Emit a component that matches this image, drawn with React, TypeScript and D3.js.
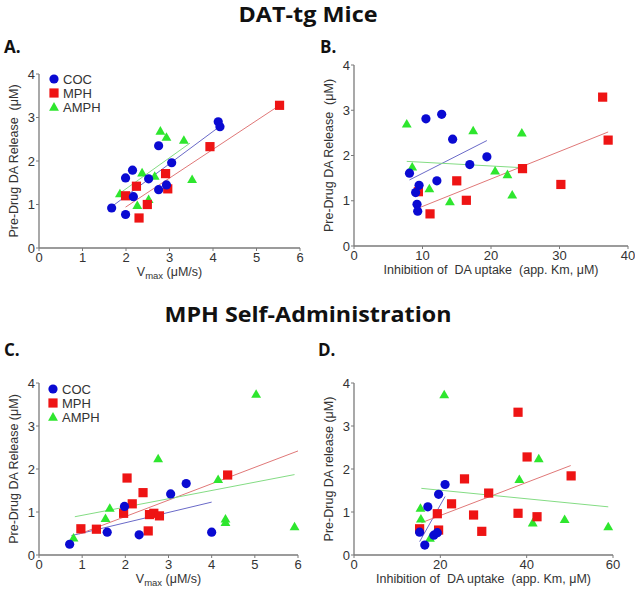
import React from 'react';
import * as d3 from 'd3';

// series order: COC, MPH, AMPH
const seriesNames = ['COC', 'MPH', 'AMPH'];
const seriesColors = ['#0a0ad2', '#ee1414', '#2ee62e'];
const lineColors = ['#6a6ac8', '#e07878', '#84dc84'];

// A. DAT-tg, Vmax
const aCOC = [[1.67, 0.92], [1.99, 0.77], [1.99, 1.61], [2.15, 1.79], [2.17, 1.18], [2.52, 1.59], [2.75, 2.35], [2.75, 1.34], [2.93, 1.45], [3.05, 1.96], [4.12, 2.9], [4.16, 2.79]];
const aMPH = [[1.99, 1.2], [2.24, 1.42], [2.3, 0.69], [2.49, 1.0], [2.91, 1.71], [2.96, 1.36], [3.93, 2.33], [5.53, 3.28]];
const aAMPH = [[1.86, 1.25], [2.26, 0.98], [2.37, 1.73], [2.52, 1.12], [2.66, 1.65], [2.79, 2.69], [2.93, 2.55], [3.33, 2.48], [3.52, 1.58]];
const aFits = [[1.67, 0.95, 4.15, 2.79], [1.99, 0.94, 5.53, 3.28], [1.86, 1.26, 3.47, 2.41]];

// B. DAT-tg, app. Km
const bCOC = [[8.1, 1.61], [9.5, 1.34], [9.0, 1.18], [9.2, 0.92], [9.3, 0.77], [10.5, 2.81], [12.8, 2.91], [12.1, 1.44], [14.4, 2.36], [16.9, 1.8], [19.4, 1.97]];
const bMPH = [[9.4, 1.2], [11.1, 0.71], [15.0, 1.44], [16.4, 1.01], [24.6, 1.71], [30.2, 1.36], [36.3, 3.29], [37.1, 2.34]];
const bAMPH = [[7.7, 2.7], [8.5, 1.75], [11.0, 1.27], [14.0, 0.98], [17.4, 2.55], [20.6, 1.66], [22.4, 1.58], [23.1, 1.13], [24.5, 2.5]];
const bFits = [[8.1, 1.46, 19.4, 2.33], [9.6, 0.85, 37.1, 2.52], [7.7, 1.87, 24.6, 1.73]];

// C. MPH self-admin, Vmax
const cCOC = [[0.71, 0.25], [1.58, 0.53], [1.98, 1.13], [2.32, 0.47], [3.05, 1.42], [3.41, 1.66], [4.0, 0.53]];
const cMPH = [[0.97, 0.61], [1.33, 0.6], [1.96, 0.97], [2.04, 1.79], [2.16, 1.19], [2.41, 1.45], [2.53, 0.56], [2.56, 0.94], [2.66, 0.97], [2.79, 0.91], [4.37, 1.86]];
const cAMPH = [[0.8, 0.4], [1.54, 0.85], [1.64, 1.09], [2.76, 2.24], [4.15, 1.76], [4.32, 0.76], [4.32, 0.84], [5.03, 3.74], [5.92, 0.66]];
const cFits = [[0.75, 0.45, 4.0, 1.23], [0.94, 0.49, 6.0, 2.42], [0.83, 0.89, 5.92, 1.87]];

// D. MPH self-admin, app. Km
const dCOC = [[15.2, 0.53], [16.4, 0.23], [17.1, 1.12], [18.5, 0.46], [19.3, 0.52], [19.6, 1.41], [21.1, 1.64]];
const dMPH = [[15.2, 0.61], [19.3, 0.96], [19.6, 0.58], [22.6, 1.19], [25.6, 1.77], [27.7, 0.93], [29.6, 0.55], [31.2, 1.44], [38.0, 3.32], [38.0, 0.97], [40.1, 2.28], [42.4, 0.89], [50.3, 1.84]];
const dAMPH = [[15.4, 1.09], [15.5, 0.84], [17.6, 0.39], [20.9, 3.73], [38.3, 1.76], [41.4, 0.75], [42.8, 2.24], [48.8, 0.83], [58.9, 0.66]];
const dFits = [[15.2, 0.31, 21.1, 1.36], [15.6, 0.75, 50.2, 2.08], [15.6, 1.55, 58.9, 1.12]];

const vmaxTicks = [0, 1, 2, 3, 4, 5, 6];
const kmTicksB = [0, 10, 20, 30, 40];
const kmTicksD = [0, 20, 40, 60];
const yTicks = [0, 1, 2, 3, 4];

const FONT = '"Liberation Sans", Arial, sans-serif';
const TITLE_FONT = '"Open Sans", "Liberation Sans", sans-serif';
const AXIS = '#7a7a7a';
const TEXT = '#333';

function Marker({ kind, x, y, color }) {
  if (kind === 0) return <circle cx={x} cy={y} r={4.6} fill={color} />;
  if (kind === 1) return <rect x={x - 4.6} y={y - 4.6} width={9.2} height={9.2} fill={color} />;
  const s = d3.symbol().type(d3.symbolTriangle).size(42)();
  return <path d={s} transform={`translate(${x},${y + 0.8})`} fill={color} />;
}

function Panel({ letter, letterPos, box, xMax, xTicks, xLabel, yLabel, series, fits, legend }) {
  const x = d3.scaleLinear().domain([0, xMax]).range([box.left, box.right]);
  const y = d3.scaleLinear().domain([0, 4]).range([box.bottom, box.top]);
  const cy = (box.top + box.bottom) / 2;
  return (
    <g>
      <text x={letterPos[0]} y={letterPos[1]} fontFamily={TITLE_FONT} fontWeight="bold" fontSize={17} fill="#111">{letter}</text>
      {/* axes */}
      <line x1={box.left} x2={box.right} y1={box.bottom} y2={box.bottom} stroke={AXIS} strokeWidth={1.3} />
      <line x1={box.left} x2={box.left} y1={box.top} y2={box.bottom} stroke={AXIS} strokeWidth={1.3} />
      {xTicks.map(t => (
        <g key={'x' + t}>
          <line x1={x(t)} x2={x(t)} y1={box.bottom} y2={box.bottom + 3} stroke={AXIS} />
          <text x={x(t)} y={box.bottom + 14} textAnchor="middle" fontFamily={FONT} fontSize={13} fill={TEXT}>{t}</text>
        </g>
      ))}
      {yTicks.map(t => (
        <g key={'y' + t}>
          <line x1={box.left - 3} x2={box.left} y1={y(t)} y2={y(t)} stroke={AXIS} />
          <text x={box.left - 4} y={y(t) + 4.5} textAnchor="end" fontFamily={FONT} fontSize={13} fill={TEXT}>{t}</text>
        </g>
      ))}
      <text transform={`translate(${box.left - 21},${cy}) rotate(-90)`} textAnchor="middle" fontFamily={FONT} fontSize={12.5} fill={TEXT} style={{ whiteSpace: 'pre' }}>{yLabel}</text>
      <text x={(box.left + box.right) / 2} y={box.bottom + 28} textAnchor="middle" fontFamily={FONT} fontSize={12.5} fill={TEXT} style={{ whiteSpace: 'pre' }}>{xLabel}</text>
      {/* regression lines */}
      {fits.map((f, i) => (
        <line key={'f' + i} x1={x(f[0])} y1={y(f[1])} x2={x(f[2])} y2={y(f[3])} stroke={lineColors[i]} strokeWidth={1} />
      ))}
      {/* points: AMPH, MPH, COC drawing order */}
      {[2, 1, 0].map(si => series[si].map((p, j) => (
        <Marker key={si + '-' + j} kind={si} x={x(p[0])} y={y(p[1])} color={seriesColors[si]} />
      )))}
      {legend && seriesNames.map((n, i) => (
        <g key={n}>
          <Marker kind={i} x={legend[0]} y={legend[1] + i * 14} color={seriesColors[i]} />
          <text x={legend[0] + 9} y={legend[1] + i * 14 + 5} fontFamily={FONT} fontSize={13} fill={TEXT}>{n}</text>
        </g>
      ))}
    </g>
  );
}

const vmaxLabel = (
  <>
    V<tspan fontSize={9.5} dy={3}>max</tspan><tspan dy={-3}> (μM/s)</tspan>
  </>
);

export default function App() {
  return (
    <svg width={635} height={592} style={{ position: 'absolute', left: 0, top: 0, background: '#fff' }}>
      <rect width={635} height={592} fill="#fff" />
      <text x={308} y={22} textAnchor="middle" fontFamily={TITLE_FONT} fontWeight="bold" fontSize={21} fill="#111"
        textLength={139} lengthAdjust="spacingAndGlyphs">DAT-tg Mice</text>
      <text x={308} y={322} textAnchor="middle" fontFamily={TITLE_FONT} fontWeight="bold" fontSize={21} fill="#111"
        textLength={287} lengthAdjust="spacingAndGlyphs">MPH Self-Administration</text>
      <Panel letter="A." letterPos={[4, 53]} box={{ left: 39, right: 300, top: 74, bottom: 248 }} xMax={6} xTicks={vmaxTicks}
        xLabel={vmaxLabel} yLabel="Pre-Drug DA Release  (μM)" series={[aCOC, aMPH, aAMPH]} fits={aFits} legend={[54, 79]} />
      <Panel letter="B." letterPos={[320, 53]} box={{ left: 354, right: 628, top: 65, bottom: 246 }} xMax={40} xTicks={kmTicksB}
        xLabel="Inhibition of  DA uptake  (app. Km, μM)" yLabel="Pre-Drug DA Release  (μM)" series={[bCOC, bMPH, bAMPH]} fits={bFits} />
      <Panel letter="C." letterPos={[4, 356]} box={{ left: 39, right: 298, top: 383, bottom: 555 }} xMax={6} xTicks={vmaxTicks}
        xLabel={vmaxLabel} yLabel="Pre-Drug DA Release (μM)" series={[cCOC, cMPH, cAMPH]} fits={cFits} legend={[53, 389]} />
      <Panel letter="D." letterPos={[318, 356]} box={{ left: 354, right: 613, top: 383, bottom: 555 }} xMax={60} xTicks={kmTicksD}
        xLabel="Inhibition of  DA uptake  (app. Km, μM)" yLabel="Pre-Drug DA release (μM)" series={[dCOC, dMPH, dAMPH]} fits={dFits} />
    </svg>
  );
}
